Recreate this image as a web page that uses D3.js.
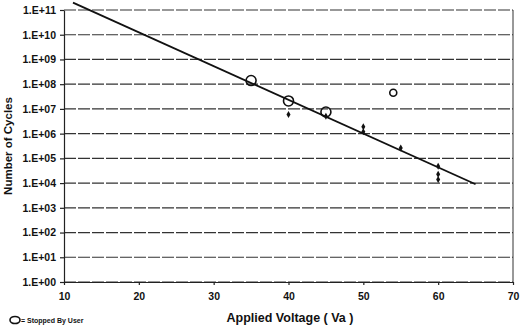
<!DOCTYPE html>
<html>
<head>
<meta charset="utf-8">
<script src="https://cdn.jsdelivr.net/npm/d3@7"></script>
<style>
  body { margin: 0; background: #fff; }
  svg { font-family: "Liberation Sans", Arial, sans-serif; font-weight: bold; }
</style>
</head>
<body>
<svg id="chart" width="520" height="327"></svg>
<script>
// data
const stoppedVolts = [35, 40, 45, 54];
const stoppedCycles = [1.4e8, 2.1e7, 7.5e6, 4.5e7];
const failVolts = [40, 45, 50, 50, 55, 60, 60, 60];
const failCycles = [6e6, 5e6, 1.9e6, 1.2e6, 2.6e5, 4.8e4, 2.3e4, 1.4e4];
const fitVolts = [11.2, 65];
const fitCycles = [2e11, 9e3];
const xTicks = [10, 20, 30, 40, 50, 60, 70];
const yTicks = d3.range(0, 12).map(function (e) { return Math.pow(10, e); });

const svg = d3.select("#chart");
const margin = { top: 10, right: 7, bottom: 45, left: 64 };
const width = 520 - margin.left - margin.right;
const height = 327 - margin.top - margin.bottom;

const x = d3.scaleLinear().domain([10, 70]).range([0, width]);
const y = d3.scaleLog().domain([1, 1e11]).range([height, 0]);

const g = svg.append("g")
  .attr("transform", "translate(" + margin.left + "," + margin.top + ")");

// horizontal grid lines
g.append("g")
  .selectAll("line")
  .data(yTicks)
  .join("line")
  .attr("x1", 0)
  .attr("x2", width)
  .attr("y1", function (d) { return y(d); })
  .attr("y2", function (d) { return y(d); })
  .attr("stroke", "#333")
  .attr("stroke-width", 1.2)
  .attr("stroke-dasharray", "12,2");

// right border
g.append("line")
  .attr("x1", width).attr("x2", width)
  .attr("y1", 0).attr("y2", height)
  .attr("stroke", "#333");

// axes
const yAxis = g.append("g")
  .call(d3.axisLeft(y).tickValues(yTicks).tickSize(4).tickSizeOuter(0)
    .tickFormat(function (d) { return "1.E+" + d3.format("02d")(Math.round(Math.log10(d))); }));
yAxis.selectAll("text").attr("font-size", 10.5).attr("fill", "#111").attr("x", -8);

const xAxis = g.append("g")
  .attr("transform", "translate(0," + height + ")")
  .call(d3.axisBottom(x).tickValues(xTicks).tickSize(3).tickSizeOuter(0));
xAxis.selectAll("text").attr("font-size", 10.5).attr("fill", "#111").attr("y", 11);

svg.selectAll(".domain, .tick line").attr("stroke", "#222").attr("stroke-width", 1.2);
svg.selectAll("text").attr("font-family", "Liberation Sans, Arial, sans-serif");

// fit line
const line = d3.line()
  .x(function (d) { return x(d[0]); })
  .y(function (d) { return y(d[1]); });
g.append("path")
  .datum(d3.zip(fitVolts, fitCycles))
  .attr("fill", "none")
  .attr("stroke", "#111")
  .attr("stroke-width", 1.8)
  .attr("d", line);

// failures (small diamonds)
g.append("g")
  .selectAll("path")
  .data(d3.zip(failVolts, failCycles))
  .join("path")
  .attr("transform", function (d) { return "translate(" + x(d[0]) + "," + y(d[1]) + ")"; })
  .attr("d", d3.symbol(d3.symbolDiamond, 14))
  .attr("fill", "#111");

// stopped by user (open circles)
g.append("g")
  .selectAll("circle")
  .data(d3.zip(stoppedVolts, stoppedCycles))
  .join("circle")
  .attr("cx", function (d) { return x(d[0]); })
  .attr("cy", function (d) { return y(d[1]); })
  .attr("r", function (d, i) { return i === 3 ? 3.5 : 5; })
  .attr("fill", "none")
  .attr("stroke", "#111")
  .attr("stroke-width", 1.6);

// axis titles
svg.append("text")
  .attr("transform", "translate(12," + (margin.top + height / 2) + ") rotate(-90)")
  .attr("text-anchor", "middle")
  .attr("font-size", 11.5)
  .attr("fill", "#111")
  .text("Number of Cycles");

svg.append("text")
  .attr("x", 290)
  .attr("y", 322)
  .attr("text-anchor", "middle")
  .attr("font-size", 12.5)
  .attr("fill", "#111")
  .text("Applied Voltage ( Va )");

// legend
svg.append("ellipse")
  .attr("cx", 15).attr("cy", 320)
  .attr("rx", 5).attr("ry", 3.5)
  .attr("fill", "none").attr("stroke", "#111").attr("stroke-width", 1.6);
svg.append("text")
  .attr("x", 21).attr("y", 323)
  .attr("font-size", 7)
  .attr("fill", "#111")
  .text("= Stopped By User");
</script>
</body>
</html>
